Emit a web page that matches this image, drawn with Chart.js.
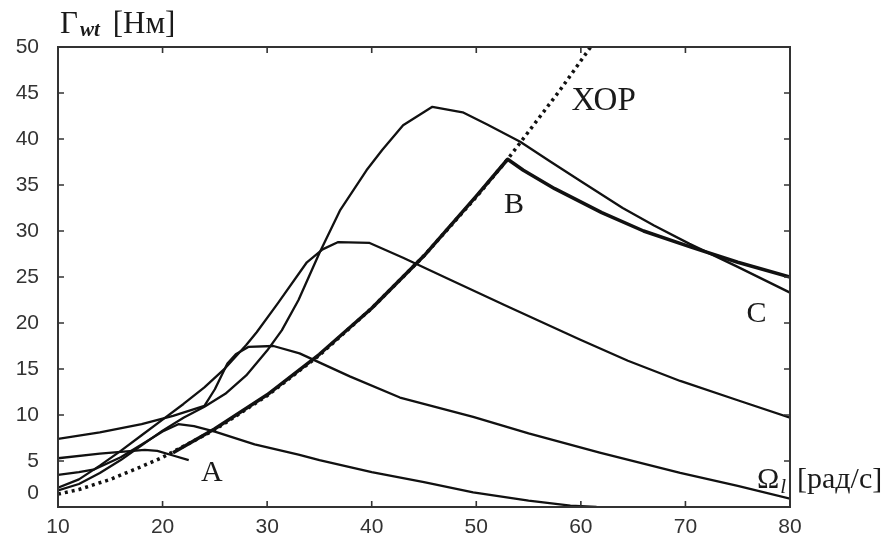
<!DOCTYPE html>
<html>
<head>
<meta charset="utf-8">
<script src="https://cdn.jsdelivr.net/npm/chart.js@4.4.1/dist/chart.umd.min.js"></script>
<style>
  html, body { margin: 0; padding: 0; background: #fff; }
  #wrap { width: 890px; height: 538px; }
</style>
</head>
<body>
<div id="wrap"><canvas id="torqueChart" width="890" height="538"></canvas></div>
<script>
// axis ticks
const omegaTicks = [10, 20, 30, 40, 50, 60, 70, 80];
const torqueTicks = [0, 5, 10, 15, 20, 25, 30, 35, 40, 45, 50];

// turbine torque vs rotor speed, one curve per wind speed
const omegaW1 = [10, 14, 18.3, 19.5, 21, 22.5];
const torqueW1 = [5.3, 5.8, 6.2, 6.1, 5.6, 5.1];

const omegaW2 = [10, 12, 13.5, 16, 18, 20, 21.5, 23, 25, 28.8, 33, 35, 40, 45, 49.7, 55, 59, 61.5];
const torqueW2 = [3.5, 3.8, 4.1, 5.4, 6.8, 8.2, 9.0, 8.8, 8.2, 6.8, 5.7, 5.1, 3.8, 2.7, 1.6, 0.7, 0.15, 0];

const omegaW3 = [10, 14, 18, 21, 24, 25, 26.2, 27, 28.2, 30.6, 33.1, 37.9, 42.7, 49.7, 55, 61.8, 69.5, 75, 80];
const torqueW3 = [7.4, 8.1, 9.0, 9.9, 11.0, 12.8, 15.6, 16.6, 17.4, 17.5, 16.7, 14.2, 11.9, 9.8, 8.0, 5.9, 3.7, 2.3, 0.9];

const omegaW4 = [10, 12, 14, 16, 18, 20, 22, 24, 26, 28, 29, 31, 33.8, 35.3, 36.8, 39.8, 43, 47.5, 53, 59.9, 64.5, 69.5, 75, 80];
const torqueW4 = [2.1, 3.0, 4.5, 6.1, 7.8, 9.5, 11.2, 13.0, 15.1, 17.6, 19.0, 22.1, 26.6, 28.0, 28.8, 28.7, 27.1, 24.7, 21.8, 18.2, 15.9, 13.7, 11.6, 9.7];

const omegaW5 = [10, 12, 14, 16, 18, 20, 22, 24, 26, 28, 30, 31.4, 33, 35, 37, 39.5, 41, 43, 45.8, 48.7, 51, 54.2, 57, 60, 64, 67, 70.4, 75, 80];
const torqueW5 = [1.8, 2.5, 3.7, 5.1, 6.7, 8.3, 9.7, 10.9, 12.3, 14.3, 17.0, 19.2, 22.5, 27.6, 32.3, 36.6, 38.8, 41.5, 43.5, 42.9, 41.6, 39.7, 37.6, 35.4, 32.5, 30.6, 28.6, 26.1, 23.3];

// optimal regime characteristic (ХОР)
const omegaOpt = [10, 12, 15, 18, 20, 25, 30, 35, 40, 45, 50, 53, 55, 58, 60, 61];
const torqueOpt = [1.4, 1.9, 3.0, 4.4, 5.4, 8.4, 12.1, 16.5, 21.6, 27.3, 33.7, 37.8, 40.8, 45.3, 48.5, 50.1];

// operating trajectory A -> B -> C
const omegaPath = [21, 25, 30, 35, 40, 45, 50, 53, 54.5, 57.5, 62, 66, 70.4, 75, 80];
const torquePath = [5.9, 8.5, 12.2, 16.6, 21.6, 27.3, 33.8, 37.8, 36.6, 34.6, 32.0, 30.0, 28.3, 26.6, 25.0];

// point labels, placed in data coordinates
const pointLabels = [
  { text: 'A', x: 24.7, y: 3.9, align: 'center', size: 30 },
  { text: 'B', x: 53.6, y: 33.0, align: 'center', size: 30 },
  { text: 'C', x: 76.8, y: 21.2, align: 'center', size: 30 },
  { text: 'ХОР', x: 59.1, y: 44.2, align: 'left', size: 33 }
];

const pts = (xs, ys) => xs.map((x, i) => ({ x: x, y: ys[i] }));

const ink = '#111';
const serif = '"Liberation Serif", "DejaVu Serif", serif';
const sans = '"Liberation Sans", Arial, sans-serif';

function curve(xs, ys) {
  return { data: pts(xs, ys), borderColor: ink, borderWidth: 2.3, order: 1 };
}

// box frame with inward tick marks on all four sides
const frameTicks = {
  id: 'frameTicks',
  afterDatasetsDraw(chart) {
    const { ctx, chartArea: a, scales: { x, y } } = chart;
    ctx.save();
    ctx.strokeStyle = '#333';
    ctx.lineWidth = 2;
    ctx.strokeRect(a.left, a.top, a.right - a.left, a.bottom - a.top);
    ctx.lineWidth = 1.6;
    ctx.beginPath();
    x.ticks.forEach(t => {
      const px = x.getPixelForValue(t.value);
      ctx.moveTo(px, a.bottom); ctx.lineTo(px, a.bottom - 6);
      ctx.moveTo(px, a.top); ctx.lineTo(px, a.top + 6);
    });
    y.ticks.forEach(t => {
      const py = y.getPixelForValue(t.value);
      ctx.moveTo(a.left, py); ctx.lineTo(a.left + 6, py);
      ctx.moveTo(a.right, py); ctx.lineTo(a.right - 6, py);
    });
    ctx.stroke();
    ctx.restore();
  }
};

// A/B/C/ХОР labels and the two axis titles
const textLayer = {
  id: 'textLayer',
  afterDraw(chart) {
    const { ctx, chartArea: a, scales: { x, y } } = chart;
    ctx.save();
    ctx.fillStyle = '#1a1a1a';
    ctx.textBaseline = 'alphabetic';
    pointLabels.forEach(l => {
      ctx.font = l.size + 'px ' + serif;
      ctx.textAlign = l.align;
      ctx.fillText(l.text, x.getPixelForValue(l.x), y.getPixelForValue(l.y) + 10);
    });

    // Γwt [Нм]
    ctx.textAlign = 'left';
    let cx = a.left + 2;
    const ty = a.top - 14;
    ctx.font = '31px ' + serif;
    ctx.fillText('Γ', cx, ty);
    cx += ctx.measureText('Γ').width + 2;
    ctx.font = 'italic bold 21px ' + serif;
    ctx.fillText('wt', cx, ty + 3);
    cx += ctx.measureText('wt').width + 13;
    ctx.font = '31px ' + serif;
    ctx.fillText('[Нм]', cx, ty);

    // Ωl [рад/с]
    let bx = a.right - 33;
    const by = a.bottom - 19;
    ctx.font = '30px ' + serif;
    ctx.fillText('Ω', bx, by);
    bx += ctx.measureText('Ω').width + 1;
    ctx.font = 'italic 21px ' + serif;
    ctx.fillText('l', bx, by + 5);
    ctx.font = '30px ' + serif;
    ctx.fillText('[рад/с]', a.right + 7, by);
    ctx.restore();
  }
};

new Chart(document.getElementById('torqueChart'), {
  type: 'line',
  data: {
    datasets: [
      { data: pts(omegaPath, torquePath), borderColor: ink, borderWidth: 3.5, order: 0 },
      curve(omegaW1, torqueW1),
      curve(omegaW2, torqueW2),
      curve(omegaW3, torqueW3),
      curve(omegaW4, torqueW4),
      curve(omegaW5, torqueW5),
      {
        data: pts(omegaOpt, torqueOpt),
        borderColor: ink,
        borderWidth: 3.5,
        borderDash: [3, 4],
        borderCapStyle: 'butt',
        order: 2
      }
    ]
  },
  options: {
    responsive: false,
    animation: false,
    devicePixelRatio: 1,
    layout: { padding: { top: 47, right: 100, left: 0, bottom: 0 } },
    elements: { point: { radius: 0 }, line: { tension: 0, fill: false, borderJoinStyle: 'round' } },
    plugins: { legend: { display: false }, tooltip: { enabled: false } },
    scales: {
      x: {
        type: 'linear',
        min: 10,
        max: 80,
        grid: { display: false, drawTicks: false },
        border: { display: false },
        afterBuildTicks: s => { s.ticks = omegaTicks.map(v => ({ value: v })); },
        afterFit: s => { s.height = 31; s.paddingLeft = 0; s.paddingRight = 0; },
        ticks: {
          autoSkip: false,
          maxRotation: 0,
          padding: 8,
          color: '#333',
          font: { family: sans, size: 21 }
        }
      },
      y: {
        min: 0,
        max: 50,
        grid: { display: false, drawTicks: false },
        border: { display: false },
        afterBuildTicks: s => { s.ticks = torqueTicks.map(v => ({ value: v })); },
        afterFit: s => { s.width = 58; s.paddingTop = 0; s.paddingBottom = 0; },
        ticks: {
          autoSkip: false,
          padding: 19,
          color: '#333',
          font: { family: sans, size: 21, lineHeight: 1.35 },
          callback: v => v === 0 ? ['0', ''] : String(v)
        }
      }
    }
  },
  plugins: [frameTicks, textLayer]
});
</script>
</body>
</html>
